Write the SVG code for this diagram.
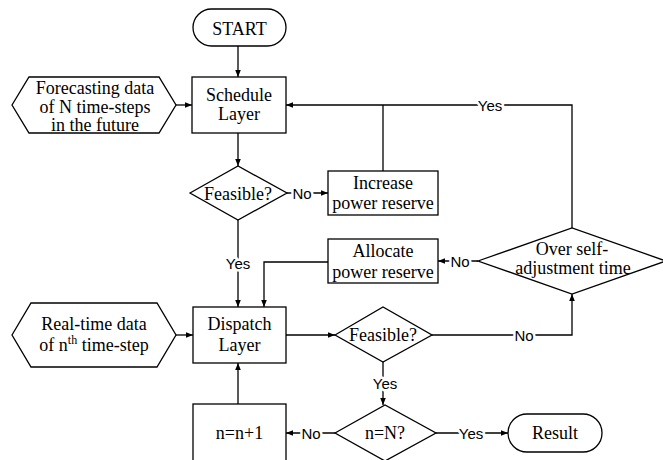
<svg xmlns="http://www.w3.org/2000/svg" width="663" height="460" viewBox="0 0 663 460">
<defs>
<marker id="ah" viewBox="0 0 10 10" refX="10" refY="5" markerWidth="7" markerHeight="7" markerUnits="userSpaceOnUse" orient="auto">
<path d="M0,1 L10,5 L0,9 z" fill="#000"/>
</marker>
<style>
.s{fill:#fff;stroke:#000;stroke-width:1.3}
.t{font-family:"Liberation Serif","Times New Roman",serif;font-size:18px;fill:#000;text-anchor:middle}
.c{fill:none;stroke:#000;stroke-width:1.3}
.a{marker-end:url(#ah)}
.l{font-family:"Liberation Sans",Arial,sans-serif;font-size:15px;fill:#000;text-anchor:middle;stroke:#fff;stroke-width:5px;paint-order:stroke;stroke-linejoin:round}
</style>
</defs>
<rect width="663" height="460" fill="#fff"/>
<g id="connectors">
<path class="c a" d="M238,46 V77"/>
<path class="c a" d="M176,105 H192"/>
<path class="c a" d="M572,228 V105 H286"/>
<path class="c" d="M383,171 V105"/>
<path class="c a" d="M238,133 V166"/>
<path class="c a" d="M287,193 H328"/>
<path class="c a" d="M238,220 V307"/>
<path class="c a" d="M478,261 H438"/>
<path class="c a" d="M328,262 H264 V307"/>
<path class="c a" d="M176,335 H193"/>
<path class="c a" d="M286,335 H335"/>
<path class="c a" d="M432,335 H572 V294"/>
<path class="c a" d="M383,362 V405"/>
<path class="c a" d="M436,433 H508"/>
<path class="c a" d="M335,433 H286"/>
<path class="c a" d="M238,404 V363"/>
<text class="l" x="490" y="110.5">Yes</text>
<text class="l" x="302" y="198.5">No</text>
<text class="l" x="238" y="268.5">Yes</text>
<text class="l" x="460" y="266.5">No</text>
<text class="l" x="524" y="340.5">No</text>
<text class="l" x="385" y="388.5">Yes</text>
<text class="l" x="471" y="438.5">Yes</text>
<text class="l" x="311" y="438.5">No</text>
</g>
<g id="start">
<rect class="s" x="193" y="9" width="93" height="37" rx="18.5"/>
<text class="t" x="239.5" y="34.5">START</text>
</g>
<g id="forecast">
<polygon class="s" points="12,105 29,77 159,77 176,105 159,133 29,133"/>
<text class="t" x="95" y="94">Forecasting data</text>
<text class="t" x="95" y="112.5">of N time-steps</text>
<text class="t" x="95" y="131">in the future</text>
</g>
<g id="schedule">
<rect class="s" x="192" y="77" width="94" height="56"/>
<text class="t" x="239" y="101">Schedule</text>
<text class="t" x="239" y="119.5">Layer</text>
</g>
<g id="feasible1">
<polygon class="s" points="190,193 238,166 287,193 238,220"/>
<text class="t" x="238" y="199.5">Feasible?</text>
</g>
<g id="increase">
<rect class="s" x="328" y="171" width="110" height="44"/>
<text class="t" x="383" y="188.5">Increase</text>
<text class="t" x="383" y="209">power reserve</text>
</g>
<g id="allocate">
<rect class="s" x="328" y="239" width="110" height="44"/>
<text class="t" x="383" y="257">Allocate</text>
<text class="t" x="383" y="277.5">power reserve</text>
</g>
<g id="overself">
<polygon class="s" points="478,261 572,228 666,261 572,294"/>
<text class="t" x="572" y="255">Over self-</text>
<text class="t" x="573" y="273.5">adjustment time</text>
</g>
<g id="realtime">
<polygon class="s" points="12,335 31,303 157,303 176,335 157,367 31,367"/>
<text class="t" x="94" y="330">Real-time data</text>
<text class="t" x="94" y="351">of n<tspan font-size="12" dy="-7">th</tspan><tspan dy="7"> time-step</tspan></text>
</g>
<g id="dispatch">
<rect class="s" x="193" y="307" width="93" height="56"/>
<text class="t" x="239.5" y="330">Dispatch</text>
<text class="t" x="239.5" y="351">Layer</text>
</g>
<g id="feasible2">
<polygon class="s" points="335,335 383,307 432,335 383,362"/>
<text class="t" x="383" y="341">Feasible?</text>
</g>
<g id="nN">
<polygon class="s" points="335,433 385,405 436,433 385,461"/>
<text class="t" x="385" y="439">n=N?</text>
</g>
<g id="result">
<rect class="s" x="508" y="414" width="94" height="38" rx="19"/>
<text class="t" x="555" y="439">Result</text>
</g>
<g id="increment">
<rect class="s" x="193" y="404" width="93" height="60"/>
<text class="t" x="239.5" y="439">n=n+1</text>
</g>
</svg>
